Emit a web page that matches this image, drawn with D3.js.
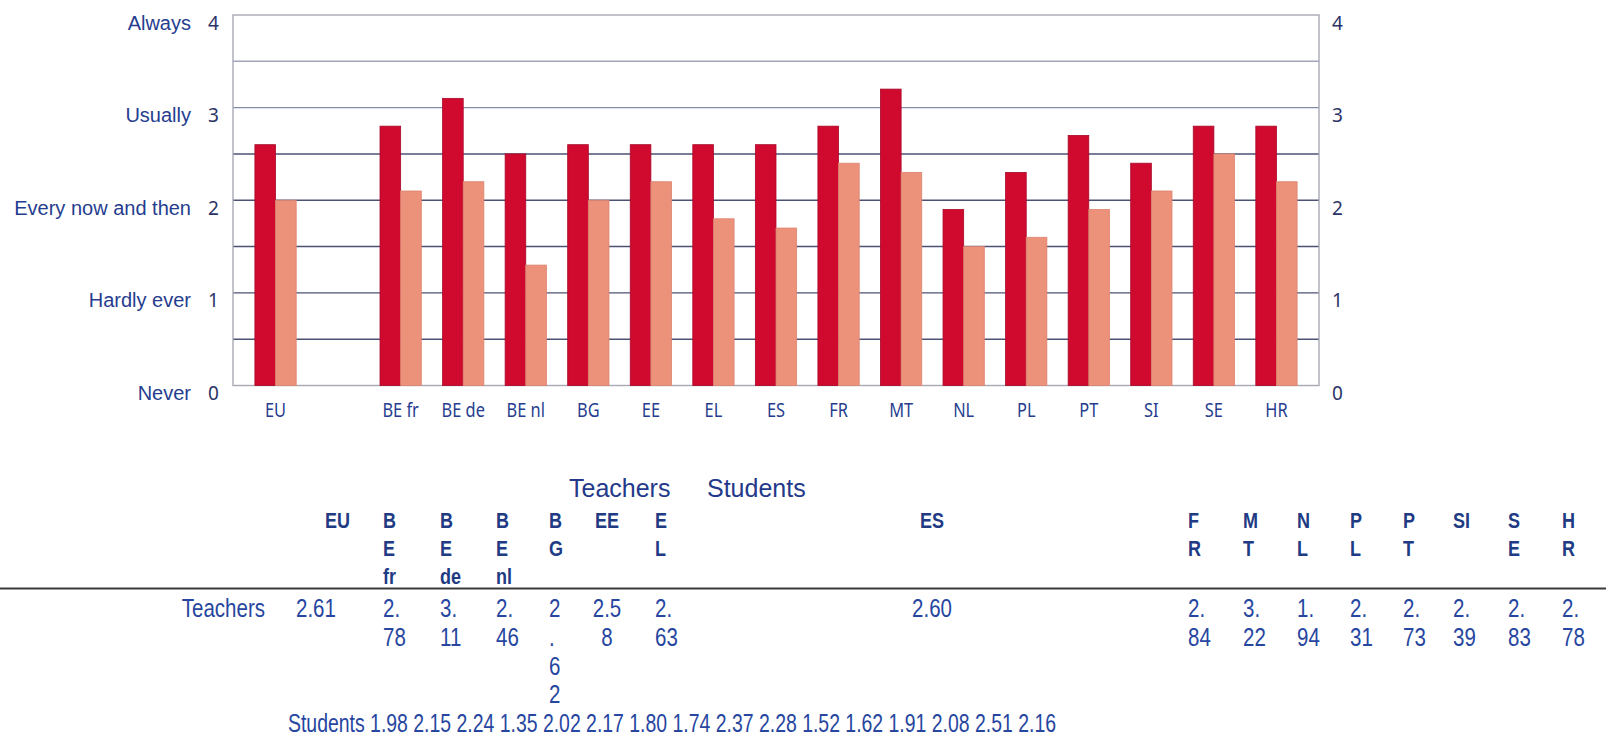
<!DOCTYPE html>
<html>
<head>
<meta charset="utf-8">
<script src="https://cdn.jsdelivr.net/npm/d3@7"></script>
<style>
  body { margin: 0; background: #fff; }
  svg { display: block; }
</style>
</head>
<body>
<div id="chart"></div>
<script>
// Chart data (bar heights)
const countries = ["EU", "BE fr", "BE de", "BE nl", "BG", "EE", "EL", "ES", "FR", "MT", "NL", "PL", "PT", "SI", "SE", "HR"];
const barTeachers = [2.6, 2.8, 3.1, 2.5, 2.6, 2.6, 2.6, 2.6, 2.8, 3.2, 1.9, 2.3, 2.7, 2.4, 2.8, 2.8];
const barStudents = [2.0, 2.1, 2.2, 1.3, 2.0, 2.2, 1.8, 1.7, 2.4, 2.3, 1.5, 1.6, 1.9, 2.1, 2.5, 2.2];
const yTicks = [0, 1, 2, 3, 4];
const yTickNames = ["Never", "Hardly ever", "Every now and then", "Usually", "Always"];

// Table data underneath the chart
const tableTitles = ["Teachers", "Students"];
const tableHeaderLines = [["EU"], ["B", "E", "fr"], ["B", "E", "de"], ["B", "E", "nl"], ["B", "G"], ["EE"], ["E", "L"], ["ES"],
  ["F", "R"], ["M", "T"], ["N", "L"], ["P", "L"], ["P", "T"], ["SI"], ["S", "E"], ["H", "R"]];
const tableTeachers = ["2.61", "2.78", "3.11", "2.46", "2.62", "2.58", "2.63", "2.60", "2.84", "3.22", "1.94", "2.31", "2.73", "2.39", "2.83", "2.78"];
const tableStudents = ["1.98", "2.15", "2.24", "1.35", "2.02", "2.17", "1.80", "1.74", "2.37", "2.28", "1.52", "1.62", "1.91", "2.08", "2.51", "2.16"];

// layout
const W = 1606, H = 739;
const plot = {left: 233, right: 1319, top: 15, bottom: 385.5};
const navy = "#263d8f";
const teacherColor = "#d00a2e", studentColor = "#ec917a";

// table column layout (text x, anchor, characters per line before it wraps)
const colX = [296, 383, 440, 496, 549, 607, 655, 932, 1188, 1243, 1297, 1350, 1403, 1453, 1508, 1562];
const colAnchor = ["start", "start", "start", "start", "start", "middle", "start", "middle",
  "start", "start", "start", "start", "start", "start", "start", "start"];
const colChars = [9, 2, 2, 2, 1, 3, 2, 9, 2, 2, 2, 2, 2, 2, 2, 2];

const svg = d3.select("#chart").append("svg")
    .attr("width", W)
    .attr("height", H);

const slots = [countries[0], "_gap", ...countries.slice(1)];
const x = d3.scaleBand().domain(slots).range([plot.left, plot.right])
    .paddingInner(0.34).paddingOuter(0.35);
const x1 = d3.scaleBand().domain(["Teachers", "Students"]).range([0, x.bandwidth()]);
const y = d3.scaleLinear().domain([0, 4]).range([plot.bottom, plot.top]);

// gridlines
const grid = d3.range(0.5, 4, 0.5);
svg.append("g").selectAll("line")
    .data(grid).enter()
    .append("line")
    .attr("x1", plot.left).attr("x2", plot.right)
    .attr("y1", d => y(d)).attr("y2", d => y(d))
    .attr("stroke", d => d > 3 ? "#a3a6ba" : (d > 2.5 ? "#858aa8" : "#4d5274"))
    .attr("stroke-width", 1.4);

svg.append("rect")
    .attr("x", plot.left).attr("y", plot.top)
    .attr("width", plot.right - plot.left).attr("height", plot.bottom - plot.top)
    .attr("fill", "none")
    .attr("stroke", "#a8a9b4")
    .attr("stroke-width", 1.4);

// bars
const groups = svg.append("g").selectAll("g")
    .data(countries).enter()
    .append("g")
    .attr("transform", d => "translate(" + x(d) + ",0)");

groups.append("rect")
    .attr("x", x1("Teachers"))
    .attr("width", x1.bandwidth())
    .attr("y", (d, i) => y(barTeachers[i]))
    .attr("height", (d, i) => y(0) - y(barTeachers[i]))
    .attr("fill", teacherColor)
    .attr("stroke", "#a8082a")
    .attr("stroke-width", 0.8);

groups.append("rect")
    .attr("x", x1("Students"))
    .attr("width", x1.bandwidth())
    .attr("y", (d, i) => y(barStudents[i]))
    .attr("height", (d, i) => y(0) - y(barStudents[i]))
    .attr("fill", studentColor)
    .attr("stroke", "#dc8470")
    .attr("stroke-width", 0.8);

// x labels
groups.append("text")
    .attr("transform", "translate(" + (x.bandwidth() / 2) + ",416.5) scale(0.82,1)")
    .attr("text-anchor", "middle")
    .attr("font-family", "Noto Sans, sans-serif")
    .attr("font-size", 20)
    .attr("fill", navy)
    .text(d => d);

// y axis labels, both sides
svg.append("g").selectAll("text")
    .data(yTicks).enter()
    .append("text")
    .attr("x", 191)
    .attr("y", d => y(d) + 14.5)
    .attr("text-anchor", "end")
    .attr("font-family", "Liberation Sans, Arial, sans-serif")
    .attr("font-size", 20)
    .attr("fill", navy)
    .text((d, i) => yTickNames[i]);

[208, 1332].forEach(function (xPos) {
    svg.append("g").selectAll("text")
        .data(yTicks).enter()
        .append("text")
        .attr("x", xPos)
        .attr("y", d => y(d) + 14.5)
        .attr("font-family", "Noto Sans, sans-serif")
        .attr("font-size", 19)
        .attr("fill", "#2b3366")
        .text(d => d);
});

// ---- table ----
function narrow(g, xPos, yPos, str, anchor, size, weight, color) {
    g.append("text")
        .attr("transform", "translate(" + xPos + "," + yPos + ") scale(0.82,1)")
        .attr("text-anchor", anchor)
        .attr("font-family", "Liberation Sans, Arial, sans-serif")
        .attr("font-size", size)
        .attr("font-weight", weight)
        .attr("fill", color)
        .text(str);
}

function chunk(str, n) {
    const out = [];
    for (let i = 0; i < str.length; i += n) out.push(str.slice(i, i + n));
    return out;
}

const table = svg.append("g");

table.selectAll(".title")
    .data(tableTitles).enter()
    .append("text")
    .attr("class", "title")
    .attr("x", (d, i) => i === 0 ? 569 : 707)
    .attr("y", 497)
    .attr("font-family", "Liberation Sans, Arial, sans-serif")
    .attr("font-size", 25)
    .attr("fill", "#24398a")
    .text(d => d);

const headLine = 28, bodyLine = 28.75;
tableHeaderLines.forEach(function (lines, c) {
    lines.forEach(function (s, k) {
        if (c === 0) narrow(table, 350, 528 + k * headLine, s, "end", 22, "bold", "#213a84");
        else narrow(table, colX[c], 528 + k * headLine, s, colAnchor[c], 22, "bold", "#213a84");
    });
});

table.append("line")
    .attr("x1", 0).attr("x2", W)
    .attr("y1", 588.5).attr("y2", 588.5)
    .attr("stroke", "#3a3a3a")
    .attr("stroke-width", 2);

narrow(table, 265, 617, "Teachers", "end", 25, "normal", "#2746a0");
tableTeachers.forEach(function (v, c) {
    chunk(v, colChars[c]).forEach(function (s, k) {
        narrow(table, colX[c], 617 + k * bodyLine, s, colAnchor[c], 25, "normal", "#2746a0");
    });
});

table.append("text")
    .attr("x", 288)
    .attr("y", 617 + 4 * bodyLine)
    .attr("textLength", 768)
    .attr("lengthAdjust", "spacingAndGlyphs")
    .attr("font-family", "Liberation Sans, Arial, sans-serif")
    .attr("font-size", 25)
    .attr("fill", "#2746a0")
    .text("Students " + tableStudents.join(" "));
</script>
</body>
</html>
